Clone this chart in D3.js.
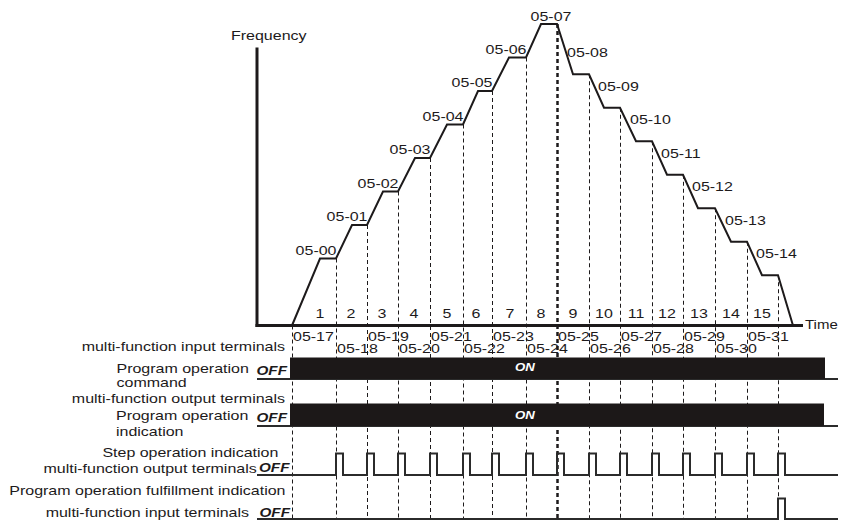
<!DOCTYPE html>
<html>
<head>
<meta http-equiv="Content-type" content="text/html; charset=utf-8">
<title>Program operation timing</title>
<script src="https://d3js.org/d3.v7.min.js"></script>
<style>
  body { margin: 0; background: #fff; }
  svg text { font-family: "Liberation Sans", Arial, sans-serif; fill: #1d1a1b; }
</style>
</head>
<body>
<div id="chart"></div>
<script>
(function(d3) {
  'use strict';

  // step frequencies 05-00 .. 05-14 (relative units)
  var stepFreq = [2, 3, 4, 5, 6, 7, 8, 9, 7.5, 6.5, 5.5, 4.5, 3.5, 2.5, 1.5];
  var freqLabels = ['05-00', '05-01', '05-02', '05-03', '05-04', '05-05', '05-06', '05-07',
                    '05-08', '05-09', '05-10', '05-11', '05-12', '05-13', '05-14'];
  var stepNames = ['1', '2', '3', '4', '5', '6', '7', '8', '9', '10', '11', '12', '13', '14', '15'];
  var timeLabels = ['05-17', '05-18', '05-19', '05-20', '05-21', '05-22', '05-23', '05-24',
                    '05-25', '05-26', '05-27', '05-28', '05-29', '05-30', '05-31'];
  // time at which each step reaches its frequency, and time at which it ends
  var rampEnd = [28, 60, 91, 123, 155, 186, 217, 249, 281, 312, 344, 375, 406, 439, 470];
  var stepEnd = [44, 75, 106, 138, 171, 200, 234, 265, 297, 328, 360, 391, 423, 455, 486];
  var stopTime = 501;
  // signal on-intervals
  var cmdOn = [-2, 533];
  var indOn = [-2, 532];
  var stepPulses = stepEnd;
  var donePulses = [486];
  var pulseWidth = 7;

  var width = 841, height = 520;
  var bottom = 520;

  var svg = d3.select('#chart').append('svg')
    .attr('width', width)
    .attr('height', height);

  var x = d3.scaleLinear().domain([-35, 511]).range([257, 803]);
  var y = d3.scaleLinear().domain([0, 9]).range([325.5, 24]);
  var xEnd = 546; // signal lines end time

  var ink = '#1d1a1b';

  function crisp(v) { return Math.round(v) + 0.5; }

  function txt(px, py, s, o) {
    o = o || {};
    var t = svg.append('text')
      .attr('transform', 'translate(' + px + ',' + py + ') scale(' + (o.sx || 1.25) + ',1)')
      .attr('text-anchor', o.anchor || 'start')
      .style('font-size', (o.size || 12.8) + 'px')
      .text(s);
    if (o.bold) t.style('font-weight', 'bold').style('font-style', 'italic');
    if (o.fill) t.style('fill', o.fill);
    return t;
  }

  // dashed step boundaries
  var bounds = [{t: 0, f: 0, bold: false}].concat(stepEnd.map(function(t, i) {
    return {t: t, f: stepFreq[i], bold: i === 7};
  }));
  svg.selectAll('line.bound')
    .data(bounds)
    .enter().append('line')
    .attr('class', 'bound')
    .attr('x1', function(d) { return crisp(x(d.t)); })
    .attr('x2', function(d) { return crisp(x(d.t)); })
    .attr('y1', function(d) { return y(d.f); })
    .attr('y2', bottom)
    .attr('stroke', ink)
    .attr('stroke-width', function(d) { return d.bold ? 2.5 : 1; })
    .attr('stroke-dasharray', '4,3');

  // axes
  svg.append('line')
    .attr('x1', x(-35)).attr('x2', x(-35))
    .attr('y1', y(0) + 1.5).attr('y2', y(8.3))
    .attr('stroke', ink).attr('stroke-width', 3);
  svg.append('line')
    .attr('x1', x(-35) - 1.5).attr('x2', x(511))
    .attr('y1', y(0)).attr('y2', y(0))
    .attr('stroke', ink).attr('stroke-width', 3);
  txt(231, 40, 'Frequency');
  txt(805, 329, 'Time', {size: 12.5, sx: 1.2});

  // frequency profile
  var pts = [[0, 0]];
  stepFreq.forEach(function(f, i) {
    pts.push([rampEnd[i], f]);
    pts.push([stepEnd[i], f]);
  });
  pts.push([stopTime, 0]);
  var line = d3.line()
    .x(function(d) { return x(d[0]); })
    .y(function(d) { return y(d[1]); });
  svg.append('path')
    .attr('d', line(pts))
    .attr('fill', 'none')
    .attr('stroke', ink)
    .attr('stroke-width', 2)
    .attr('stroke-linejoin', 'miter');

  // frequency labels
  freqLabels.forEach(function(s, i) {
    if (i < 7) {
      txt(x(stepEnd[i]) + 0.5, y(stepFreq[i]) - 3.7, s, {anchor: 'end'});
    } else if (i === 7) {
      txt((x(rampEnd[i]) + x(stepEnd[i])) / 2 + 2, y(stepFreq[i]) - 3.5, s, {anchor: 'middle'});
    } else {
      txt(x(rampEnd[i]) - 6, y(stepFreq[i]) - 17, s);
    }
  });

  // step numbers
  stepNames.forEach(function(s, i) {
    txt(x(stepEnd[i]) - 16, 317.5, s, {anchor: 'middle'});
  });

  // step time parameters
  var stepStart = [0].concat(stepEnd.slice(0, 14));
  timeLabels.forEach(function(s, i) {
    txt(x(stepStart[i]) + 1, i % 2 === 0 ? 340.5 : 353, s);
  });

  // signal rows
  function lowLine(ly) {
    svg.append('line')
      .attr('x1', x(-35)).attr('x2', x(xEnd))
      .attr('y1', ly).attr('y2', ly)
      .attr('stroke', '#2b2b2b').attr('stroke-width', 2);
  }
  function bar(on, top, low, onY) {
    lowLine(low);
    svg.append('rect')
      .attr('x', x(on[0])).attr('width', x(on[1]) - x(on[0]))
      .attr('y', top).attr('height', low - top)
      .attr('fill', '#1c1818');
    txt(x(233), onY, 'ON', {anchor: 'middle', size: 11, sx: 1.2, bold: true, fill: '#fff'});
  }
  function pulses(list, high, low) {
    var d = 'M' + x(-35) + ',' + low;
    list.forEach(function(p) {
      d += 'L' + x(p) + ',' + low + 'L' + x(p) + ',' + high +
           'L' + x(p + pulseWidth) + ',' + high + 'L' + x(p + pulseWidth) + ',' + low;
    });
    d += 'L' + x(xEnd) + ',' + low;
    svg.append('path')
      .attr('d', d)
      .attr('fill', 'none')
      .attr('stroke', '#2b2b2b')
      .attr('stroke-width', 2);
  }

  bar(cmdOn, 357.5, 379, 371);
  bar(indOn, 403.5, 426, 418.5);
  pulses(stepPulses, 453.5, 475);
  pulses(donePulses, 498.5, 519);

  // row labels
  txt(285, 350.5, 'multi-function input terminals', {anchor: 'end'});
  txt(116.5, 372.5, 'Program operation');
  txt(116.5, 386.5, 'command');
  txt(285, 403, 'multi-function output terminals', {anchor: 'end'});
  txt(116, 419.5, 'Program operation');
  txt(116, 435.5, 'indication');
  txt(278.3, 456.5, 'Step operation indication', {anchor: 'end'});
  txt(256.7, 473.3, 'multi-function output terminals', {anchor: 'end'});
  txt(285.5, 495, 'Program operation fulfillment indication', {anchor: 'end'});
  txt(249, 517, 'multi-function input terminals', {anchor: 'end'});

  [[256.5, 374.7], [256.5, 421.5], [259, 471.7], [259.5, 516.5]].forEach(function(p) {
    txt(p[0], p[1], 'OFF', {size: 12, sx: 1.27, bold: true});
  });
})(window.d3);
</script>
</body>
</html>
